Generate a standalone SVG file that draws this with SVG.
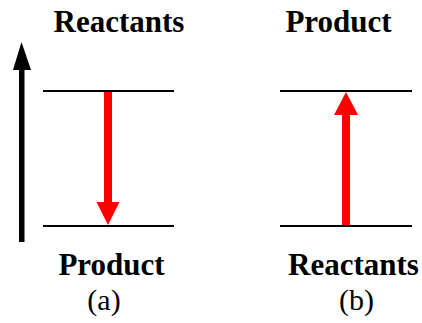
<svg xmlns="http://www.w3.org/2000/svg" width="422" height="323" viewBox="0 0 422 323">
<style>
.lbl{font-family:'Liberation Serif','Times New Roman','DejaVu Serif',serif;font-size:31px;font-weight:bold;fill:#000;text-anchor:middle}
.cap{font-family:'Liberation Serif','Times New Roman','DejaVu Serif',serif;font-size:30px;font-weight:normal;fill:#000;text-anchor:middle}
.lvl{stroke:#000;stroke-width:2;fill:none}
.red{fill:#ff0000}
</style>
<rect width="422" height="323" fill="#fff"/>
<g id="axis">
<rect x="19" y="68" width="5.5" height="174" fill="#000"/>
<polygon points="21.5,42 31,70 13,70" fill="#000"/>
</g>
<g id="panel-a">
<text class="lbl" x="119" y="32" font-family="Liberation Serif, serif">Reactants</text>
<line class="lvl" x1="43" y1="91" x2="174" y2="91"/>
<line class="lvl" x1="43" y1="226" x2="174" y2="226"/>
<text class="lbl" x="111.5" y="275" font-family="Liberation Serif, serif">Product</text>
<text class="cap" x="104" y="310" font-family="Liberation Serif, serif">(a)</text>
</g>
<g id="panel-b">
<text class="lbl" x="338.5" y="32" font-family="Liberation Serif, serif">Product</text>
<line class="lvl" x1="280" y1="91" x2="412" y2="91"/>
<line class="lvl" x1="280" y1="226" x2="412" y2="226"/>
<text class="lbl" x="353.5" y="275" font-family="Liberation Serif, serif">Reactants</text>
<text class="cap" x="356.5" y="310" font-family="Liberation Serif, serif">(b)</text>
</g>
<g id="connectors">
<rect class="red" x="104" y="92" width="8" height="111"/>
<polygon class="red" points="96.5,202 119.5,202 108,225"/>
<rect class="red" x="342" y="114" width="8" height="111"/>
<polygon class="red" points="334,115 358,115 346,92"/>
</g>
</svg>
